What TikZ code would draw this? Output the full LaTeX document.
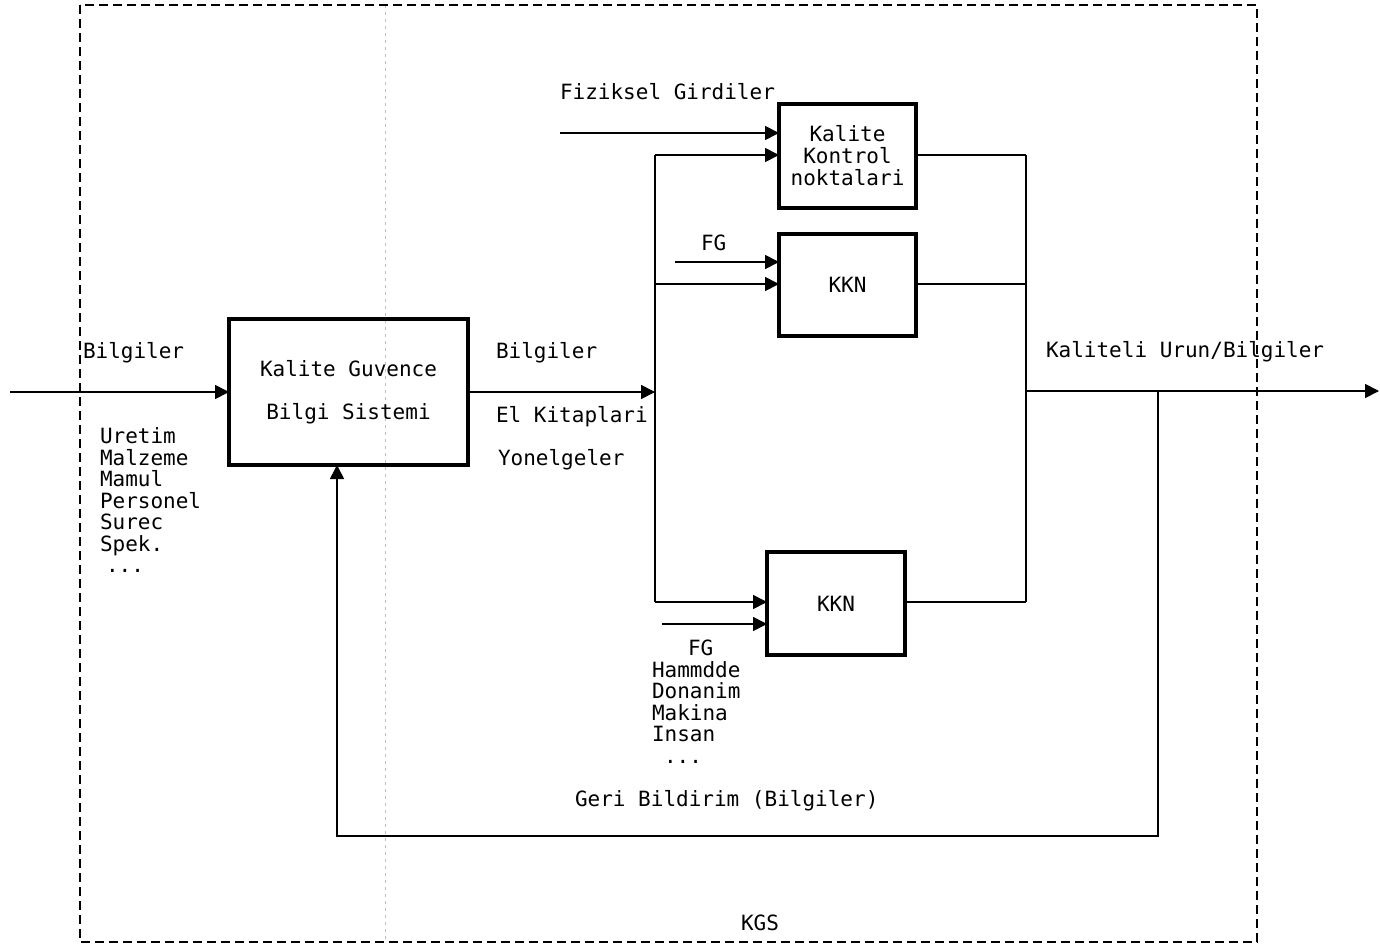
\documentclass[tikz,border=0pt]{standalone}
\usepackage{fontspec}
\setmonofont{DejaVu Sans Mono}
\usetikzlibrary{arrows.meta}
\begin{document}
\begin{tikzpicture}[x=1pt,y=-1pt,
  txt/.style={font=\ttfamily\fontsize{21}{21.5}\selectfont, inner sep=0pt, outer sep=0pt},
  blk/.style={draw, line width=3.5pt, txt, align=center},
  conn/.style={line width=1.7pt},
  arr/.style={conn, -{Triangle[length=14pt,width=14pt]}},
  frame/.style={line width=2pt, dash pattern=on 9pt off 5pt},
  fold/.style={line width=0.6pt, black!25, dash pattern=on 3pt off 4pt}]
\useasboundingbox (0,0) rectangle (1380,948);
% faint fold line of the scan
\draw[fold] (385,5) -- (385,942);
% outer dashed frame KGS
\draw[frame] (80,5) rectangle (1257,942);
% blocks
\node[blk, minimum width=239pt, minimum height=146pt] (kg) at (348.5,392)
  {Kalite Guvence\\[21pt] Bilgi Sistemi};
\node[blk, minimum width=137pt, minimum height=104pt, font=\ttfamily\fontsize{21}{22}\selectfont] (k1) at (847.5,156)
  {Kalite\\Kontrol\\noktalari};
\node[blk, minimum width=137pt, minimum height=102pt] (k2) at (847.5,285) {KKN};
\node[blk, minimum width=138pt, minimum height=103pt] (k3) at (836,603.5) {KKN};
% coordinates
\coordinate (inL) at (10,392);
\coordinate (bus) at (655,392);
\coordinate (busT) at (655,155);
\coordinate (bus2) at (655,284);
\coordinate (busB) at (655,602);
\coordinate (fiz) at (560,133);
\coordinate (fg1) at (675,262);
\coordinate (fg3) at (662,624);
\coordinate (cT) at (1026,155);
\coordinate (cOut) at (1026,391);
\coordinate (outE) at (1379,391);
\coordinate (fb) at (1158,391);
\coordinate (fbB) at (1158,836);
\coordinate (fbIn) at (337,465);
% connectors
\draw[arr] (inL) -- (kg.west);
\draw[arr] (kg.east) -- (bus);
\draw[conn] (busT) -- (busB);
\draw[arr] (fiz) -- (fiz -| k1.west);
\draw[arr] (busT) -- (busT -| k1.west);
\draw[arr] (fg1) -- (fg1 -| k2.west);
\draw[arr] (bus2) -- (bus2 -| k2.west);
\draw[arr] (busB) -- (busB -| k3.west);
\draw[arr] (fg3) -- (fg3 -| k3.west);
\draw[conn] (k1.east |- cT) -- (cT);
\draw[conn] (k2.east |- bus2) -- (cT |- bus2);
\draw[conn] (k3.east |- busB) -- (cT |- busB);
\draw[conn] (cT) -- (cT |- busB);
\draw[arr] (cOut) -- (outE);
\draw[arr] (fb) -- (fbB) -| (fbIn |- kg.south);
% labels
\node[txt, anchor=base west] (lb1) at (83,358) {Bilgiler};
\node[txt, anchor=north west, align=left] (lst1) at (100,428)
  {Uretim\\Malzeme\\Mamul\\Personel\\Surec\\Spek.\\\hspace*{6pt}...};
\node[txt, anchor=base west] (lb2) at (496,358) {Bilgiler};
\node[txt, anchor=base west] (lb3) at (496,422) {El Kitaplari};
\node[txt, anchor=base west] (lb4) at (498,465) {Yonelgeler};
\node[txt, anchor=base west] (lb5) at (560,99) {Fiziksel Girdiler};
\node[txt, anchor=base west] (lb6) at (701,250) {FG};
\node[txt, anchor=north west, align=left] (lst2) at (652,640)
  {\hspace*{36pt}FG\\Hammdde\\Donanim\\Makina\\Insan\\\hspace*{12pt}...};
\node[txt, anchor=base west] (lb7) at (1046,357) {Kaliteli Urun/Bilgiler};
\node[txt, anchor=base west] (lb8) at (575,806) {Geri Bildirim (Bilgiler)};
\node[txt, anchor=base west] (lb9) at (741,930) {KGS};
\end{tikzpicture}
\end{document}
